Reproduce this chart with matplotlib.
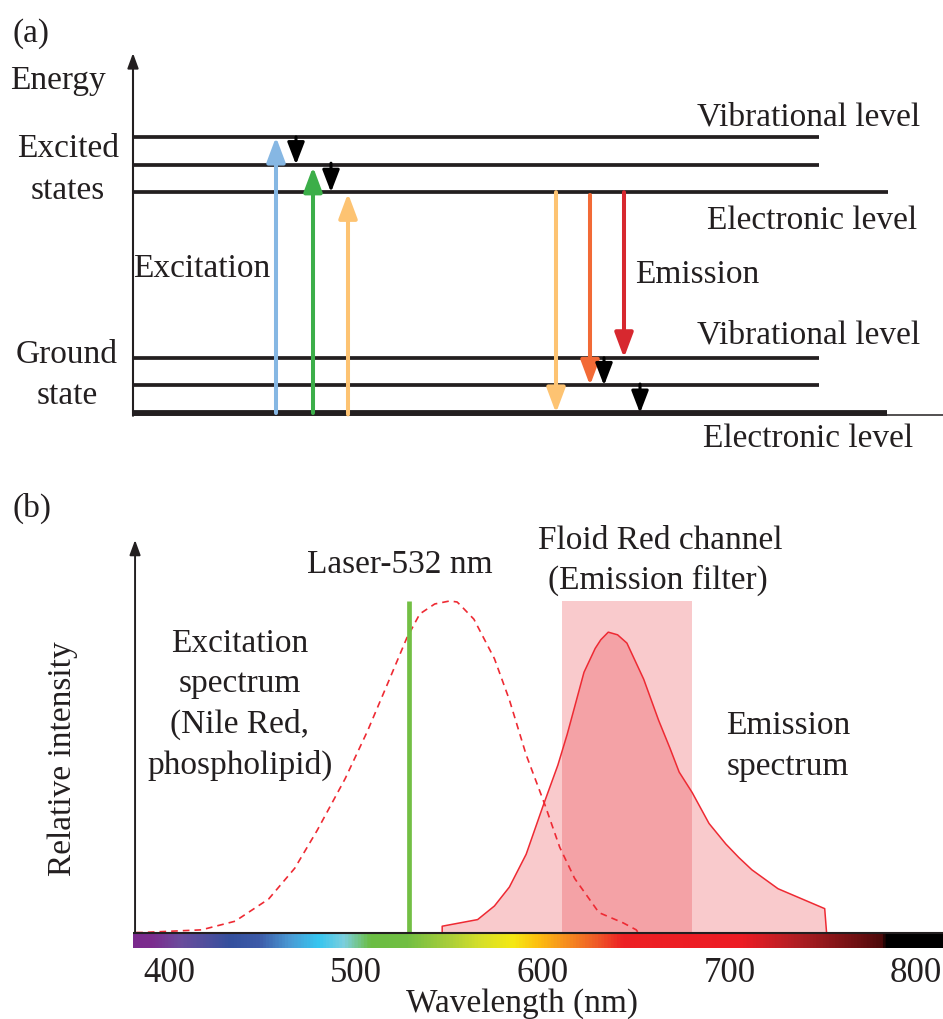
import numpy as np
import matplotlib.pyplot as plt
from matplotlib.colors import LinearSegmentedColormap

plt.rcParams['font.family'] = ['Liberation Serif', 'DejaVu Serif']

W, H = 943, 1019
INK = '#231f20'
FS = 24

# ---------------- (a) Jablonski diagram data ----------------
# energy levels (arbitrary units) and where each line stops (arbitrary x units)
level_E = [0, 1, 2, 8, 9, 10]
level_end = [754, 686, 686, 755, 686, 686]
level_lw = [4.2, 2.7, 2.7, 2.7, 2.7, 2.7]

# absorption arrows
exc_x = [143, 180, 215]
exc_from = [0, 0, -0.05]
exc_to = [10, 8.92, 7.96]
exc_colors = ['#86b7e3', '#3cae49', '#fdc372']

# emission arrows
em_x = [423, 457, 491]
em_from = [8, 7.9, 8]
em_to = [0, 1, 2]
em_colors = ['#fdc372', '#f26a36', '#d7282f']

# vibrational relaxation arrows
relax_x = [163, 198, 471, 507]
relax_from = [10, 9.05, 2, 1.05]
relax_to = [9, 8, 1, 0]

# ---------------- (b) spectra data ----------------
exc_nm = [382, 385, 417, 435, 453, 467, 479, 494, 506, 517, 527, 534, 542, 550,
          554, 556, 563, 574, 582, 591, 601, 609, 617, 630, 643, 650, 651]
exc_I = [0, 0.0, 0.008, 0.034, 0.101, 0.194, 0.308, 0.464, 0.608, 0.754, 0.888,
         0.961, 0.991, 1.0, 0.997, 0.986, 0.945, 0.826, 0.702, 0.536, 0.386,
         0.257, 0.163, 0.06, 0.029, 0.008, 0]

em_nm = [546, 546, 565, 574, 582, 591, 600, 608, 613, 617, 622, 628, 631, 635,
         640, 645, 654, 662, 668, 673, 680, 689, 698, 705, 712, 726, 741, 751, 752]
em_I = [0, 0.019, 0.039, 0.080, 0.137, 0.236, 0.381, 0.505, 0.598, 0.681, 0.785,
        0.857, 0.883, 0.906, 0.898, 0.873, 0.764, 0.640, 0.557, 0.484, 0.422,
        0.329, 0.267, 0.226, 0.189, 0.132, 0.096, 0.072, 0]

laser_nm = 528
laser_I = 1.0
filter_nm = [610, 680]
filter_I = 1.0

tick_nm = [400, 500, 600, 700, 800]
tick_labels = ['400', '500', '600', '700', '800']

# visible spectrum bar (nm, colour)
spec_nm = [380.3, 390, 405, 432, 447, 464, 479, 493, 507, 527, 549, 566, 584,
           597, 611, 629, 643, 707, 736, 771, 783.3, 784.2, 814.4]
spec_col = ['#7b2a8d', '#7b2c8e', '#6b4c9c', '#34509e', '#3d5aa8', '#4a9bd5',
            '#36c5f0', '#7ccfde', '#6bbd44', '#72bf43', '#a8ce3a', '#d5df2a',
            '#f5e914', '#fdc00f', '#f7931e', '#ef5a28', '#ed2024', '#ed1c24',
            '#b21f24', '#6b1012', '#4a0a0a', '#000000', '#000000']

fig = plt.figure(figsize=(W / 100, H / 100), dpi=100)


def ftext(x, y, s, **kw):
    kw.setdefault('fontsize', FS)
    kw.setdefault('va', 'baseline')
    fig.text(x / W, 1 - y / H, s, color=INK, **kw)


def arrow(ax, x, y0, y1, color, lw, hl, hw):
    ax.annotate('', xy=(x, y1), xytext=(x, y0),
                arrowprops=dict(arrowstyle=f'-|>,head_length={hl},head_width={hw}',
                                mutation_scale=1, lw=lw, color=color,
                                shrinkA=0, shrinkB=0))


# ================= panel (a) =================
ax_a = fig.add_axes([133 / W, 1 - 429.6 / H, 810 / W, (429.6 - 51.4) / H])
ax_a.set_xlim(0, 810)
ax_a.set_ylim(-0.6, 13.1)
ax_a.axis('off')

ax_a.plot([0, 810], [-0.054, -0.054], color=INK, lw=1.1, solid_capstyle='butt')
for E, end, lw in zip(level_E, level_end, level_lw):
    ax_a.plot([0, end], [E, E], color=INK, lw=lw, solid_capstyle='butt')
arrow(ax_a, 0, -0.1, 13.04, INK, 1.5, 9, 3.3)

for x, y0, y1, c in zip(exc_x, exc_from, exc_to, exc_colors):
    arrow(ax_a, x, y0, y1, c, 2.9, 15, 5.6)
for x, y0, y1, c in zip(em_x, em_from, em_to, em_colors):
    arrow(ax_a, x, y0, y1, c, 2.9, 15, 5.6)
for x, y0, y1 in zip(relax_x, relax_from, relax_to):
    arrow(ax_a, x, y0, y1, 'black', 2.2, 13.5, 5.2)

ftext(13, 42, '(a)')
ftext(10, 89, 'Energy')
ftext(68, 157, 'Excited', ha='center')
ftext(68, 199, 'states', ha='center')
ftext(67, 363, 'Ground', ha='center')
ftext(67, 404, 'state', ha='center')
ftext(133, 277, 'Excitation')
ftext(635, 283, 'Emission')
ftext(697, 126, 'Vibrational level')
ftext(707, 229, 'Electronic level')
ftext(697, 343, 'Vibrational level')
ftext(703, 447, 'Electronic level')

# ================= panel (b) =================
ax_b = fig.add_axes([133 / W, 1 - 947.75 / H, 810 / W, (947.75 - 538) / H])
xmin, xmax = spec_nm[0], spec_nm[-1]
ax_b.set_xlim(xmin, xmax)
ax_b.set_ylim(-0.046, 1.19)
for s in ax_b.spines.values():
    s.set_visible(False)
ax_b.set_yticks([])
ax_b.set_xticks(tick_nm, labels=tick_labels)
ax_b.tick_params(axis='x', length=0, pad=6.5, labelsize=25, labelcolor=INK)

stops = [((v - xmin) / (xmax - xmin), c) for v, c in zip(spec_nm, spec_col)]
cmap = LinearSegmentedColormap.from_list('vis', stops)
grad = np.linspace(xmin, xmax, 1200)[None, :]
ax_b.imshow(grad, cmap=cmap, extent=[xmin, xmax, -0.046, -0.0025],
            aspect='auto', vmin=xmin, vmax=xmax, zorder=1)

pink = (232 / 255, 48 / 255, 58 / 255)
ax_b.fill_between(filter_nm, 0, filter_I, color=pink, alpha=0.256, lw=0, zorder=2)
ax_b.fill(em_nm, em_I, color=pink, alpha=0.256, lw=0, zorder=3)
ax_b.plot(em_nm, em_I, color='#ee2a33', lw=1.1, zorder=4)
ax_b.plot(exc_nm, exc_I, color='#ee2a33', lw=1.2, dashes=(4, 3), zorder=4)
ax_b.plot([laser_nm, laser_nm], [0, laser_I], color='#73bf44', lw=3.4,
          solid_capstyle='butt', zorder=5)
ax_b.plot([xmin, xmax], [0, 0], color=INK, lw=1.5, zorder=6)
arrow(ax_b, 381.4, 0, 1.184, INK, 1.4, 9, 3.3)

ftext(13, 517, '(b)')
ftext(400, 573, 'Laser-532 nm', ha='center')
ftext(660, 549, 'Floid Red channel', ha='center')
ftext(658, 589, '(Emission filter)', ha='center')
for line, yb in zip(['Excitation', 'spectrum', '(Nile Red,', 'phospholipid)'],
                    [652, 692, 733, 774]):
    ftext(240, yb, line, ha='center')
ftext(788, 734, 'Emission', ha='center')
ftext(788, 775, 'spectrum', ha='center')
ftext(63, 759, 'Relative intensity', rotation=90, ha='center', va='center')
ftext(521.5, 1012, 'Wavelength (nm)', ha='center')

fig.savefig('out.png', dpi=100)
